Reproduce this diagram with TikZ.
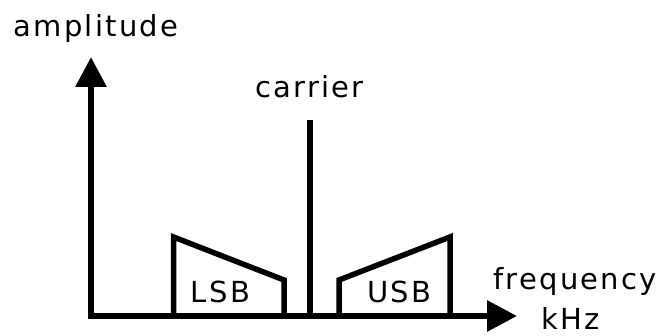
\documentclass[tikz,border=0pt]{standalone}
\usepackage{fontspec}
\setmainfont{DejaVu Sans}
\newfontfamily\lblfont[LetterSpace=8]{DejaVu Sans}
\usetikzlibrary{arrows.meta}
\begin{document}
\begin{tikzpicture}[x=1pt,y=-1pt,
  lbl/.style={font=\lblfont\fontsize{29}{34}\selectfont, inner sep=0pt, anchor=base},
  axisline/.style={line width=6pt, -{Triangle[width=30pt,length=30pt]}},
  carrierline/.style={line width=6pt},
  bandline/.style={line width=5.5pt, line join=miter}]
\useasboundingbox (0,0) rectangle (661,336);
% axes
\coordinate (origin) at (91,316);
\coordinate (ytip) at (91,57);
\coordinate (xtip) at (517,316);
\coordinate (xstart) at (88,316);
\draw[axisline] (origin) ++(0,3) -- (ytip);
\draw[axisline] (xstart) -- (xtip);
% carrier
\coordinate (cbot) at (310,316);
\coordinate (ctop) at (310,120);
\draw[carrierline] (cbot) -- (ctop);
% sidebands
\coordinate (l1) at (173.5,316);
\coordinate (l2) at (173.5,237);
\coordinate (l3) at (284,280);
\coordinate (l4) at (284,316);
\draw[bandline] (l1) -- (l2) -- (l3) -- (l4);
\coordinate (u1) at (339,316);
\coordinate (u2) at (339,280);
\coordinate (u3) at (450,237);
\coordinate (u4) at (450,316);
\draw[bandline] (u1) -- (u2) -- (u3) -- (u4);
% labels
\node[lbl] (amp) at (96,37) {amplitude};
\node[lbl] (car) at (309.5,98) {carrier};
\node[lbl] (freq) at (575,290) {frequency};
\node[lbl] (khz) at (570.5,330) {kHz};
\node[lbl] (lsb) at (220.5,303) {LSB};
\node[lbl] (usb) at (399.5,303) {USB};
\end{tikzpicture}
\end{document}
